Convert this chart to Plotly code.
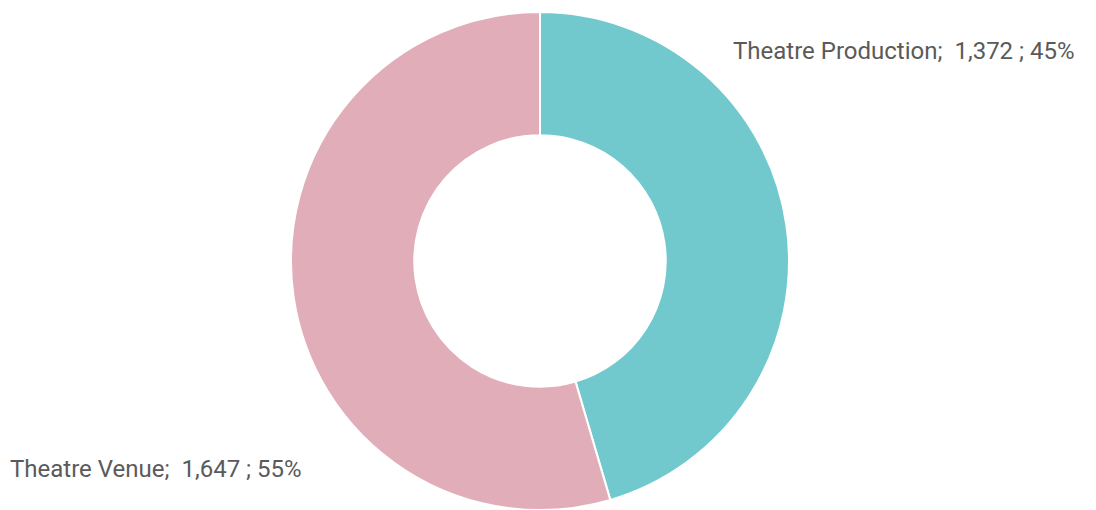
import plotly.graph_objects as go

# Seat counts by theatre type
categories = ["Theatre Production", "Theatre Venue"]
values = [1372, 1647]
colors = ["#71C9CE", "#E1ADB9"]

total = sum(values)
pcts = [round(v / total * 100) for v in values]
label_texts = [f"{c};  {v:,} ; {p}%" for c, v, p in zip(categories, values, pcts)]

fig = go.Figure(
    go.Pie(
        labels=categories,
        values=values,
        hole=0.505,
        sort=False,
        direction="clockwise",
        rotation=0,
        marker=dict(colors=colors, line=dict(color="white", width=2)),
        textinfo="none",
        hoverinfo="label+value+percent",
        domain=dict(x=[0, 1080 / 1096], y=[0, 1]),
    )
)

label_font = dict(family="Roboto", size=24, color="#5a5a5a")
fig.add_annotation(
    text=label_texts[0], x=731 / 1096, y=0.922, xref="paper", yref="paper",
    xanchor="left", yanchor="middle", showarrow=False, font=label_font,
)
fig.add_annotation(
    text=label_texts[1], x=8 / 1096, y=0.082, xref="paper", yref="paper",
    xanchor="left", yanchor="middle", showarrow=False, font=label_font,
)

fig.update_layout(
    width=1096,
    height=510,
    margin=dict(l=0, r=0, t=12, b=0),
    showlegend=False,
    paper_bgcolor="white",
    plot_bgcolor="white",
)

fig.write_html("out.html")
